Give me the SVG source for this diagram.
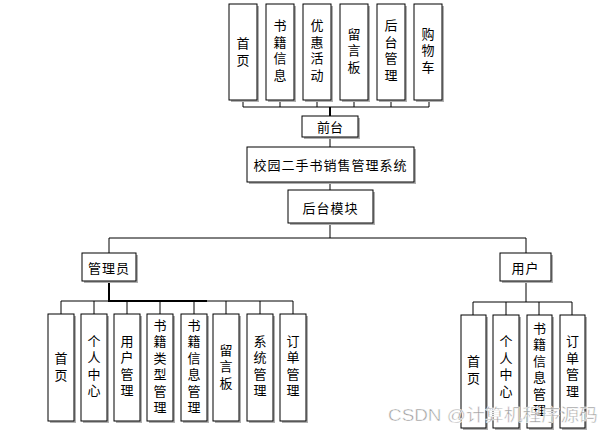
<svg xmlns="http://www.w3.org/2000/svg" width="614" height="434" viewBox="0 0 614 434">
<defs>
<style>
.b{fill:#fff;stroke:#000;stroke-width:1}
.s{fill:#b0b0b0}
.t{font-family:"Noto Sans CJK SC","Noto Sans",sans-serif;font-size:13px;fill:#000;text-anchor:middle;dominant-baseline:central}
.v{font-family:"Noto Sans CJK SC","Noto Sans",sans-serif;font-size:13px;fill:#000;text-anchor:middle;writing-mode:vertical-rl;text-orientation:upright;letter-spacing:3.5px}
.c{fill:none;stroke:#000;stroke-width:1}
.k{fill:none;stroke:#000;stroke-width:2}
.w{font-family:"Liberation Sans","Noto Sans CJK SC",sans-serif;font-size:17px;fill:#9a9a9a;stroke:#fff;stroke-width:0.5}
</style>
</defs>
<rect width="614" height="434" fill="#fff"/>
<g id="connectors">
<path class="c" d="M243,100V107H429V100M280,100V107M317,100V107M354,100V107M391,100V107"/>
<path class="k" d="M330,107V116"/>
<path class="c" d="M330,137V147M330,182V190M330,225V238"/>
<path class="c" d="M109,253V238H526V253"/>
<path class="k" d="M109,281V301H207"/>
<path class="c" d="M61,314V301H293V314M94,301V314M127,301V314M160,301V314M194,301V314M226,301V314M260,301V314"/>
<path class="c" d="M526,281V302M473,315V302H572V315M506,302V315M539,302V315"/>
</g>
<g id="top-1"><rect class="s" x="231" y="6" width="28" height="96"/><rect class="b" x="229" y="4" width="28" height="96"/><text class="v" x="243" y="53.5">首页</text></g>
<g id="top-2"><rect class="s" x="268" y="6" width="28" height="96"/><rect class="b" x="266" y="4" width="28" height="96"/><text class="v" x="280" y="52">书籍信息</text></g>
<g id="top-3"><rect class="s" x="305" y="6" width="28" height="96"/><rect class="b" x="303" y="4" width="28" height="96"/><text class="v" x="317" y="52">优惠活动</text></g>
<g id="top-4"><rect class="s" x="342" y="6" width="28" height="96"/><rect class="b" x="340" y="4" width="28" height="96"/><text class="v" x="354" y="52">留言板</text></g>
<g id="top-5"><rect class="s" x="379" y="6" width="28" height="96"/><rect class="b" x="377" y="4" width="28" height="96"/><text class="v" x="391" y="52">后台管理</text></g>
<g id="top-6"><rect class="s" x="416" y="6" width="28" height="96"/><rect class="b" x="414" y="4" width="28" height="96"/><text class="v" x="428" y="52">购物车</text></g>
<g id="qiantai"><rect class="s" x="304" y="118" width="56" height="21"/><rect class="b" x="302" y="116" width="56" height="21"/><text class="t" x="330" y="126.5">前台</text></g>
<g id="system"><rect class="s" x="249" y="149" width="167" height="35"/><rect class="b" x="247" y="147" width="167" height="35"/><text class="t" x="330.5" y="164.5" style="letter-spacing:1px">校园二手书销售管理系统</text></g>
<g id="houtai"><rect class="s" x="290" y="192" width="85" height="33"/><rect class="b" x="288" y="190" width="85" height="33"/><text class="t" x="330.5" y="207" style="letter-spacing:1px">后台模块</text></g>
<g id="admin"><rect class="s" x="84" y="255" width="54" height="28"/><rect class="b" x="82" y="253" width="54" height="28"/><text class="t" x="109" y="267" style="letter-spacing:1px">管理员</text></g>
<g id="user"><rect class="s" x="502" y="255" width="51" height="28"/><rect class="b" x="500" y="253" width="51" height="28"/><text class="t" x="525.5" y="267" style="letter-spacing:1px">用户</text></g>
<g id="a1"><rect class="s" x="50" y="316" width="26" height="107"/><rect class="b" x="48" y="314" width="26" height="107"/><text class="v" x="61" y="368.5">首页</text></g>
<g id="a2"><rect class="s" x="83" y="316" width="26" height="107"/><rect class="b" x="81" y="314" width="26" height="107"/><text class="v" x="94" y="367.5">个人中心</text></g>
<g id="a3"><rect class="s" x="116" y="316" width="26" height="107"/><rect class="b" x="114" y="314" width="26" height="107"/><text class="v" x="127" y="367.5">用户管理</text></g>
<g id="a4"><rect class="s" x="149" y="316" width="26" height="107"/><rect class="b" x="147" y="314" width="26" height="107"/><text class="v" x="160" y="368">书籍类型管理</text></g>
<g id="a5"><rect class="s" x="183" y="316" width="26" height="107"/><rect class="b" x="181" y="314" width="26" height="107"/><text class="v" x="194" y="368">书籍信息管理</text></g>
<g id="a6"><rect class="s" x="215" y="316" width="26" height="107"/><rect class="b" x="213" y="314" width="26" height="107"/><text class="v" x="226" y="368">留言板</text></g>
<g id="a7"><rect class="s" x="249" y="316" width="26" height="107"/><rect class="b" x="247" y="314" width="26" height="107"/><text class="v" x="260" y="367.5">系统管理</text></g>
<g id="a8"><rect class="s" x="282" y="316" width="26" height="107"/><rect class="b" x="280" y="314" width="26" height="107"/><text class="v" x="293" y="367.5">订单管理</text></g>
<g id="u1"><rect class="s" x="463" y="317" width="25" height="113"/><rect class="b" x="461" y="315" width="25" height="113"/><text class="v" x="473.5" y="371.5">首页</text></g>
<g id="u2"><rect class="s" x="495" y="317" width="26" height="113"/><rect class="b" x="493" y="315" width="26" height="113"/><text class="v" x="506" y="368">个人中心</text></g>
<g id="u3"><rect class="s" x="529" y="317" width="25" height="113"/><rect class="b" x="527" y="315" width="25" height="113"/><text class="v" x="539.5" y="371">书籍信息管理</text></g>
<g id="u4"><rect class="s" x="562" y="317" width="25" height="113"/><rect class="b" x="560" y="315" width="25" height="113"/><text class="v" x="572.5" y="368">订单管理</text></g>
<text class="w" x="388" y="421" textLength="210" lengthAdjust="spacingAndGlyphs">CSDN @计算机程序源码</text>
</svg>
